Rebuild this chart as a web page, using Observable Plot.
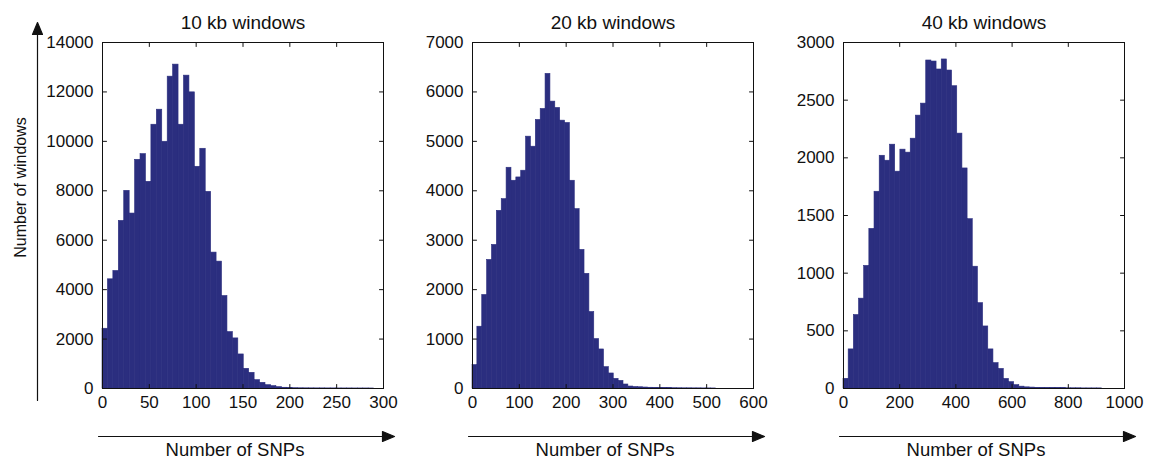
<!DOCTYPE html>
<html><head><meta charset="utf-8">
<script src="https://cdn.jsdelivr.net/npm/d3@7"></script>
<script src="https://cdn.jsdelivr.net/npm/@observablehq/plot@0.6"></script>
<style>
html,body{margin:0;padding:0;background:#fff;}
#chart{position:relative;width:1153px;height:459px;overflow:hidden;background:#fff;}
#chart svg{position:absolute;top:0;}
</style></head><body><div id="chart"></div>
<script>
// ---- data ----
const panelTitles = ["10 kb windows", "20 kb windows", "40 kb windows"];
const xAxisLabel = "Number of SNPs";
const yAxisLabel = "Number of windows";
const binWidths = [5.8, 10.4, 18.4];
const counts10kb = [2418, 4418, 4756, 6782, 7998, 7079, 9254, 9484, 8363, 10673,
  11281, 9984, 12618, 13105, 10673, 12659, 11983, 8971, 9700, 7957,
  5499, 5134, 3742, 2283, 2027, 1378, 797, 635, 338, 230,
  135, 95, 54, 30, 18, 12, 9, 7, 6, 5,
  5, 4, 4, 3, 3, 3, 2, 2, 2, 1];
const counts20kb = [473, 1250, 1892, 2601, 2905, 3595, 3831, 4466, 4203, 4270,
  4406, 5095, 4892, 5433, 5656, 6365, 5804, 5676, 5419, 5372,
  4203, 3629, 2804, 2320, 1547, 1000, 790, 432, 304, 195,
  154, 81, 40, 30, 25, 20, 15, 12, 10, 8,
  7, 6, 5, 4, 4, 3, 3, 2, 2, 1];
const counts40kb = [84, 339, 637, 779, 1063, 1384, 1706, 2018, 1975, 2114,
  1880, 2071, 2045, 2166, 2366, 2470, 2844, 2835, 2766, 2853,
  2757, 2621, 2210, 1908, 1468, 1056, 740, 538, 339, 220,
  170, 83, 55, 29, 16, 10, 8, 6, 5, 4,
  4, 3, 3, 2, 2, 2, 1, 1, 1, 1];
const xTicks10kb = [0, 50, 100, 150, 200, 250, 300];
const xTicks20kb = [0, 100, 200, 300, 400, 500, 600];
const xTicks40kb = [0, 200, 400, 600, 800, 1000];
const yTicks10kb = [0, 2000, 4000, 6000, 8000, 10000, 12000, 14000];
const yTicks20kb = [0, 1000, 2000, 3000, 4000, 5000, 6000, 7000];
const yTicks40kb = [0, 500, 1000, 1500, 2000, 2500, 3000];

// ---- drawing ----
const barColor = "#2b2e7f";
const ink = "#111";
const font = "'Liberation Sans', Arial, Helvetica, sans-serif";

const tickShape = {draw(ctx, l) { ctx.moveTo(0, 0); ctx.lineTo(0, -l); }};
const arrowShape = {draw(ctx, l) {
  ctx.moveTo(0, 0); ctx.lineTo(0, -(l - 10));
  ctx.moveTo(0, -l); ctx.lineTo(-5, -(l - 12)); ctx.lineTo(5, -(l - 12)); ctx.closePath();
}};

const panels = [
  {title: panelTitles[0], counts: counts10kb, w: binWidths[0], xt: xTicks10kb, yt: yTicks10kb, left: 0, mL: 102, mR: 12, yLabel: true},
  {title: panelTitles[1], counts: counts20kb, w: binWidths[1], xt: xTicks20kb, yt: yTicks20kb, left: 412, mL: 60, mR: 15},
  {title: panelTitles[2], counts: counts40kb, w: binWidths[2], xt: xTicks40kb, yt: yTicks40kb, left: 783, mL: 60, mR: 16}
];

const root = document.getElementById("chart");
for (const p of panels) {
  const bins = p.counts.map((c, i) => ({x0: i * p.w, x1: (i + 1) * p.w, count: c}));
  const xMax = p.xt[p.xt.length - 1], yMax = p.yt[p.yt.length - 1];
  const inner = p.xt.slice(1, -1), innerY = p.yt.slice(1, -1);
  const tk = {length: 4, anchor: "start", shape: tickShape, stroke: ink, strokeWidth: 1};
  const txt = {text: d => d, fill: ink, textAnchor: "middle", lineAnchor: "middle"};
  const marks = [
    Plot.rectY(bins, {x1: "x0", x2: "x1", y: "count", fill: barColor, stroke: barColor, strokeWidth: 0.6}),
    Plot.frame({stroke: ink, strokeWidth: 1}),
    Plot.vector(inner, {x: d => d, frameAnchor: "bottom", rotate: 0, ...tk}),
    Plot.vector(inner, {x: d => d, frameAnchor: "top", rotate: 180, ...tk}),
    Plot.vector(innerY, {y: d => d, frameAnchor: "left", rotate: 90, ...tk}),
    Plot.vector(innerY, {y: d => d, frameAnchor: "right", rotate: -90, ...tk}),
    Plot.axisX(p.xt, {anchor: "bottom", tickSize: 0, tickPadding: 7, tickFormat: d => String(d), fontSize: 17, fill: ink, label: null}),
    Plot.axisY(p.yt, {anchor: "left", tickSize: 0, tickPadding: 9, tickFormat: d => String(d), fontSize: 17, fill: ink, label: null}),
    Plot.text([p.title], {...txt, frameAnchor: "top", dy: -20, fontSize: 19}),
    Plot.text([xAxisLabel], {...txt, frameAnchor: "bottom", dx: -8, dy: 62, fontSize: 18.5}),
    Plot.vector([0], {frameAnchor: "bottom-left", dx: -4, dy: 48, rotate: 90, length: 296, anchor: "start", shape: arrowShape, fill: ink, stroke: ink, strokeWidth: 1.2})
  ];
  if (p.yLabel) {
    marks.push(Plot.text([yAxisLabel], {...txt, frameAnchor: "left", dx: -82, dy: -28, rotate: -90, fontSize: 16}));
    marks.push(Plot.vector([0], {frameAnchor: "bottom-left", dx: -65, dy: 12, rotate: 0, length: 378, anchor: "start", shape: arrowShape, fill: ink, stroke: ink, strokeWidth: 1.2}));
  }
  const svg = Plot.plot({
    width: p.mL + 281 + p.mR,
    height: 459,
    marginLeft: p.mL, marginRight: p.mR, marginTop: 42, marginBottom: 71,
    x: {domain: [0, xMax], axis: null},
    y: {domain: [0, yMax], axis: null},
    style: {fontFamily: font, fontSize: "16px", background: "transparent", color: ink, overflow: "visible"},
    marks
  });
  svg.style.left = p.left + "px";
  root.appendChild(svg);
}
</script>
</body></html>
